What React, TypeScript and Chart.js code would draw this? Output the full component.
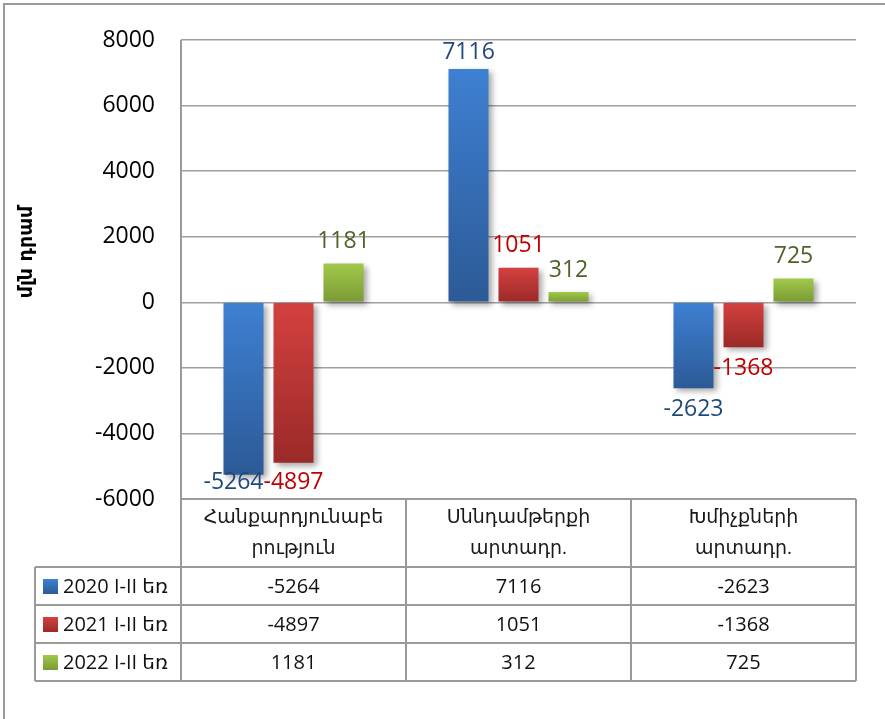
import React, { useEffect, useRef } from 'react';
import { Chart, registerables } from 'chart.js';

Chart.register(...registerables);

// ---- data ----
const categories: string[][] = [
  ['Հանքարդյունաբե', 'րություն'],
  ['Սննդամթերքի', 'արտադր.'],
  ['Խմիչքների', 'արտադր.'],
];
const seriesNames = ['2020 I-II եռ', '2021 I-II եռ', '2022 I-II եռ'];
const values2020 = [-5264, 7116, -2623];
const values2021 = [-4897, 1051, -1368];
const values2022 = [1181, 312, 725];
const yTicksMin = -6000;
const yTicksMax = 8000;
const yTicksStep = 2000;
const yTitle = 'մլն դրամ';

// ---- styles ----
const gradTop = ['#3E80D2', '#D3413F', '#A1C94B'];
const gradBottom = ['#2C5A96', '#9A2A28', '#7A9A33'];
const labelColors = ['#1F497D', '#C00000', '#4F6228'];
const FONT = "'Open Sans', 'DejaVu Sans', sans-serif";
const LINE = '#9a9a9a';

const seriesValues = [values2020, values2021, values2022];

function barGradient(i: number) {
  return (ctx: any) => {
    const chart = ctx.chart;
    if (!chart.chartArea || ctx.type !== 'data') return gradTop[i];
    const y = chart.scales.y;
    const v = ctx.raw as number;
    const p0 = y.getPixelForValue(0);
    const p1 = y.getPixelForValue(v);
    const top = Math.min(p0, p1);
    const bot = Math.max(p0, p1) + 0.01;
    const g = chart.ctx.createLinearGradient(0, top, 0, bot);
    g.addColorStop(0, gradTop[i]);
    g.addColorStop(1, gradBottom[i]);
    return g;
  };
}

const customPlugin = {
  id: 'customDraw',
  beforeDraw(chart: any) {
    const ctx = chart.ctx;
    ctx.save();
    ctx.fillStyle = '#ffffff';
    ctx.fillRect(0, 0, chart.width, chart.height);
    ctx.strokeStyle = LINE;
    ctx.lineWidth = 2;
    ctx.strokeRect(4, 4, chart.width + 50, chart.height + 50);
    ctx.restore();
  },
  beforeDatasetsDraw(chart: any) {
    const ctx = chart.ctx;
    ctx.save();
    ctx.shadowColor = 'rgba(0,0,0,0.35)';
    ctx.shadowBlur = 6;
    ctx.shadowOffsetX = 3;
    ctx.shadowOffsetY = 3;
  },
  afterDatasetsDraw(chart: any) {
    chart.ctx.restore();
  },
  afterDraw(chart: any) {
    const ctx = chart.ctx;
    const area = chart.chartArea;
    const xs = chart.scales.x;
    const n = categories.length;
    const colW = (area.right - area.left) / n;
    const headerTop = area.bottom;
    const headerBottom = headerTop + 68;
    const rowH = 38;
    const legendLeft = 35;
    const tableBottom = headerBottom + rowH * seriesNames.length;

    ctx.save();
    // ---- table lines ----
    ctx.strokeStyle = LINE;
    ctx.lineWidth = 2;
    ctx.beginPath();
    ctx.moveTo(area.left, area.top);
    ctx.lineTo(area.left, tableBottom);
    for (let c = 1; c <= n; c++) {
      const x = area.left + c * colW;
      ctx.moveTo(x, headerTop);
      ctx.lineTo(x, tableBottom);
    }
    ctx.moveTo(legendLeft, headerBottom);
    ctx.lineTo(legendLeft, tableBottom);
    for (let r = 0; r <= seriesNames.length; r++) {
      const y = headerBottom + r * rowH;
      ctx.moveTo(legendLeft, y);
      ctx.lineTo(area.right, y);
    }
    ctx.moveTo(area.left, headerTop);
    ctx.lineTo(area.right, headerTop);
    ctx.stroke();

    // ---- header text ----
    ctx.fillStyle = '#1a1a1a';
    ctx.textAlign = 'center';
    ctx.textBaseline = 'middle';
    ctx.font = `19px ${FONT}`;
    categories.forEach((lines, c) => {
      const cx = xs.getPixelForValue(c);
      lines.forEach((t, li) => {
        ctx.fillText(t, cx, headerTop + 19 + li * 31);
      });
    });

    // ---- values & legend ----
    ctx.font = `20px ${FONT}`;
    seriesNames.forEach((name, s) => {
      const cy = headerBottom + s * rowH + rowH / 2;
      seriesValues[s].forEach((v, c) => {
        ctx.textAlign = 'center';
        ctx.fillStyle = '#111';
        ctx.fillText(String(v), xs.getPixelForValue(c), cy + 1);
      });
      const g = ctx.createLinearGradient(0, cy - 7, 0, cy + 8);
      g.addColorStop(0, gradTop[s]);
      g.addColorStop(1, gradBottom[s]);
      ctx.fillStyle = g;
      ctx.fillRect(43, cy - 7, 15, 15);
      ctx.fillStyle = '#111';
      ctx.textAlign = 'left';
      ctx.fillText(name, 63, cy + 1);
    });

    // ---- data labels ----
    ctx.font = `23px ${FONT}`;
    ctx.textBaseline = 'middle';
    for (let c = 0; c < n; c++) {
      const items: any[] = [];
      seriesValues.forEach((vals, s) => {
        const meta = chart.getDatasetMeta(s);
        const el = meta.data[c];
        const v = vals[c];
        const text = String(v);
        const w = ctx.measureText(text).width;
        let y: number;
        if (v >= 0) {
          y = Math.max(el.y - 22, area.top + 12);
        } else {
          y = Math.min(el.y + 21, area.bottom - 17);
        }
        items.push({ x: el.x, y, w, text, s });
      });
      for (let i = items.length - 2; i >= 0; i--) {
        const a = items[i];
        const b = items[i + 1];
        const need = (a.w + b.w) / 2;
        if (Math.abs(a.y - b.y) < 20 && b.x - a.x < need) {
          a.x = b.x - need;
        }
      }
      items.forEach((it) => {
        ctx.fillStyle = labelColors[it.s];
        ctx.textAlign = 'center';
        ctx.fillText(it.text, it.x, it.y);
      });
    }

    // ---- y title ----
    ctx.translate(27, 252);
    ctx.rotate(-Math.PI / 2);
    ctx.font = `bold 19px 'DejaVu Sans', sans-serif`;
    ctx.fillStyle = '#000';
    ctx.textAlign = 'center';
    ctx.textBaseline = 'middle';
    ctx.fillText(yTitle, 0, 0);
    ctx.restore();
  },
};

export default function App() {
  const ref = useRef<HTMLCanvasElement>(null);
  useEffect(() => {
    const canvas = ref.current!;
    const chart = new Chart(canvas, {
      type: 'bar',
      data: {
        labels: categories,
        datasets: seriesNames.map((name, i) => ({
          label: name,
          data: seriesValues[i],
          backgroundColor: barGradient(i),
          borderWidth: 0,
          categoryPercentage: 2 / 3,
          barPercentage: 0.8,
        })),
      },
      options: {
        responsive: false,
        animation: false,
        devicePixelRatio: 1,
        layout: { padding: { left: 0, right: 29, top: 40, bottom: 220 } },
        plugins: {
          legend: { display: false },
          tooltip: { enabled: false },
        },
        scales: {
          x: { display: false },
          y: {
            min: yTicksMin,
            max: yTicksMax,
            ticks: {
              stepSize: yTicksStep,
              padding: 26,
              color: '#000',
              font: { family: FONT, size: 23 },
              callback: (v: any) => String(v),
            },
            grid: { color: '#a0a0a0', lineWidth: 1.5, drawTicks: false },
            border: { display: false },
            afterFit: (s: any) => {
              s.width = 181;
            },
          },
        },
      },
      plugins: [customPlugin],
    });
    return () => chart.destroy();
  }, []);
  return (
    <div style={{ position: 'fixed', left: 0, top: 0, width: 885, height: 719, background: '#fff' }}>
      <canvas ref={ref} width={885} height={719} style={{ display: 'block', width: 885, height: 719 }} />
    </div>
  );
}
